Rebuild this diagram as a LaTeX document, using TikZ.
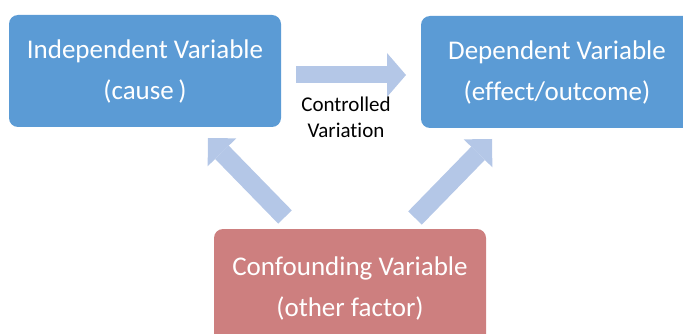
\documentclass[tikz,border=0pt]{standalone}
\usepackage{fontspec}
\setmainfont[Ligatures=CommonOff]{Carlito}
\usetikzlibrary{arrows.meta}
\definecolor{boxblue}{HTML}{5B9BD5}
\definecolor{boxred}{RGB}{205,127,127}
\definecolor{arrowblue}{HTML}{B4C7E7}
\tikzset{
  varbox/.style={rounded corners=9pt, minimum width=272pt, minimum height=112pt,
    inner sep=0pt, text=white, align=center,
    font=\fontsize{27}{41}\selectfont},
  blockarrow/.style={draw=arrowblue, line width=#1,
    -{Triangle[length=19pt, width=44pt, line width=0pt, fill=arrowblue]}},
  diagarrow/.style={draw=arrowblue, line width=19pt,
    -{Triangle[length=20pt, width=40pt, line width=0pt, fill=arrowblue]}}
}
\begin{document}
\begin{tikzpicture}[x=1pt, y=-1pt]
  \useasboundingbox (0,0) rectangle (683,334);
  \clip (0,0) rectangle (683,334);

  % the three variables
  \node[varbox, fill=boxblue] (iv) at (145,71) {Independent Variable\\(cause\,)};
  \node[varbox, fill=boxblue] (dv) at (557,72) {Dependent Variable\\(effect/outcome)};
  \node[varbox, fill=boxred, minimum height=118pt] (cv) at (350,288)
    {Confounding Variable\\(other factor)};

  % arrow end points
  \coordinate (h0) at (296,75);
  \coordinate (h1) at (406,75);
  \coordinate (l0) at (285,217);
  \coordinate (l1) at (208,138);
  \coordinate (r0) at (415,218);
  \coordinate (r1) at (492,139);

  \draw[blockarrow=17pt] (h0) -- (h1);
  \draw[diagarrow] (l0) -- (l1);
  \draw[diagarrow] (r0) -- (r1);

  \node[align=center, font=\fontsize{21}{26}\selectfont] (cvlabel) at (346,117)
    {Controlled\\Variation};
\end{tikzpicture}
\end{document}
